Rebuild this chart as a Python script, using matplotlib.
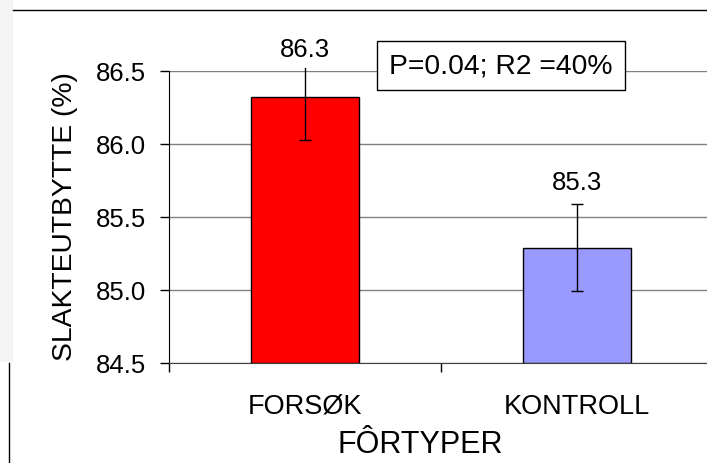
import matplotlib
matplotlib.use("Agg")
import matplotlib.pyplot as plt
from matplotlib.lines import Line2D
from matplotlib.patches import Rectangle

plt.rcParams['font.family'] = ['Liberation Sans', 'DejaVu Sans']

categories = ['FORSØK', 'KONTROLL']
values = [86.32, 85.29]
errors = [0.29, 0.30]
value_labels = ['86.3', '85.3']
colors = ['#FF0000', '#9999FF']
yticks = [84.5, 85.0, 85.5, 86.0, 86.5]
ymin, ymax = 84.5, 86.5

W, H = 707, 464
fig = plt.figure(figsize=(W / 100, H / 100), dpi=100)

# axes plassert som i originalen (høyre kant litt utenfor bildet)
ax = fig.add_axes([169 / W, 1 - 364 / H, 544 / W, 292 / H])
x = list(range(len(categories)))

ax.set_ylim(ymin, ymax)
ax.set_xlim(-0.5, len(categories) - 0.5)
ax.set_yticks(yticks)
ax.set_yticklabels(['%.1f' % t for t in yticks])
ax.yaxis.grid(True, color='#808080', linewidth=1.0)
ax.set_axisbelow(True)

ax.bar(x, [v - ymin for v in values], bottom=ymin, width=0.4,
       color=colors, edgecolor='black', linewidth=1.0, zorder=2)
eb = ax.errorbar(x, values, yerr=errors, fmt='none', ecolor='black',
                 elinewidth=1.0, capsize=4.5, capthick=1.0, zorder=3)
# feilstolpene klippes litt over plottområdet, som i Excel
clip = Rectangle((-0.5, ymin), len(categories), ymax - ymin + 0.02,
                 transform=ax.transData, fc='none', ec='none')
for art in list(eb.lines[1]) + list(eb.lines[2]):
    art.set_clip_path(clip)

for xi, v, e, lab in zip(x, values, errors, value_labels):
    ax.annotate(lab, (xi, min(v + e, ymax)), xytext=(0, 11), textcoords='offset points',
                ha='center', va='baseline', fontsize=18.5, annotation_clip=False)

for s in ['top', 'right']:
    ax.spines[s].set_visible(False)
ax.spines['left'].set_color('black')
ax.spines['bottom'].set_color('#404040')

ax.tick_params(axis='y', direction='out', length=6.5, width=1, labelsize=18.5, pad=10)
ax.set_xticks([i - 0.5 for i in range(len(categories) + 1)])
ax.set_xticklabels([])
ax.tick_params(axis='x', direction='out', length=6.5, width=1)

for xi, c in zip(x, categories):
    ax.text(xi, -(414 - 364) / 292, c, transform=ax.get_xaxis_transform(),
            ha='center', va='baseline', fontsize=19.5)

fig.text(420 / W, 1 - 453 / H, 'FÔRTYPER', ha='center', va='baseline', fontsize=22)
fig.text(65 / W, 1 - 217 / H, 'SLAKTEUTBYTTE (%)', ha='center', va='center',
         rotation=90, fontsize=20.3)

fig.text(501 / W, 1 - 73.5 / H, 'P=0.04; R2 =40%', ha='center', va='baseline', fontsize=20.3,
         bbox=dict(boxstyle='square,pad=0.42', fc='white', ec='black', lw=1.0))

# kantlinjer fra utklippet
fig.add_artist(Rectangle((0, 1 - 363 / H), 13 / W, 363 / H, transform=fig.transFigure,
                         fc='#f5f5f5', ec='none', zorder=0))
fig.add_artist(Line2D([13 / W, 1], [1 - 11 / H, 1 - 11 / H], color='black', lw=1.0))
fig.add_artist(Line2D([9 / W, 9 / W], [0, 1 - 364 / H], color='black', lw=1.0))

fig.savefig('out.png', dpi=100)
